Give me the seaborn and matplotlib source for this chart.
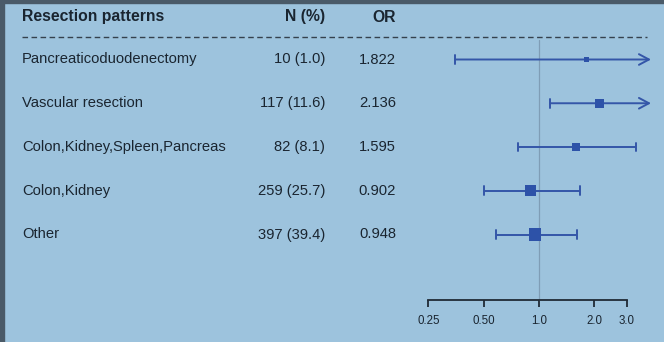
import numpy as np
import pandas as pd
import matplotlib
matplotlib.use("Agg")
import matplotlib.pyplot as plt
import seaborn as sns
from matplotlib.patches import Rectangle

# ---------------- data ----------------
patterns = ["Pancreaticoduodenectomy", "Vascular resection",
            "Colon,Kidney,Spleen,Pancreas", "Colon,Kidney", "Other"]
n_counts = [10, 117, 82, 259, 397]
n_pct = ["1.0", "11.6", "8.1", "25.7", "39.4"]
odds = [1.822, 2.136, 1.595, 0.902, 0.948]
ci_low = [0.35, 1.15, 0.77, 0.50, 0.58]
ci_high = [6.5, 5.0, 3.37, 1.67, 1.62]
tick_vals = [0.25, 0.5, 1.0, 2.0, 3.0]
tick_labels = ["0.25", "0.50", "1.0", "2.0", "3.0"]
headers = ["Resection patterns", "N (%)", "OR"]

df = pd.DataFrame({"pattern": patterns, "n": n_counts, "pct": n_pct,
                   "OR": odds, "lo": ci_low, "hi": ci_high})
df["row"] = np.arange(len(df))

# ---------------- style ----------------
BG = "#9dc3dd"
TXT = "#1a2530"
LINE = "#3456a8"
MARK = "#2d52a8"
sns.set_theme(style="white")
plt.rcParams["font.family"] = ["Liberation Sans", "DejaVu Sans"]

W, H = 664, 342
fig = plt.figure(figsize=(W / 100, H / 100), dpi=100, facecolor=BG)

# row geometry (figure pixels -> row units)
row0_px, row_step = 59.5, 43.75
ytop = -row0_px / row_step
ybot = (H - row0_px) / row_step
def prow(p):
    return (p - row0_px) / row_step

# ---- text / table axes ----
tax = fig.add_axes([0, 0, 1, 1])
tax.set_xlim(0, W)
tax.set_ylim(ybot, ytop)
tax.axis("off")

tax.text(22, prow(17), headers[0], ha="left", va="center", fontsize=11.3,
         fontweight="bold", color=TXT)
tax.text(325, prow(17), headers[1], ha="right", va="center", fontsize=11.3,
         fontweight="bold", color=TXT)
tax.text(396, prow(17), headers[2], ha="right", va="center", fontsize=11.3,
         fontweight="bold", color=TXT)
tax.plot([22, 647], [prow(37), prow(37)], ls=(0, (4, 2.5)), lw=1.0,
         color="#35414d")

for _, r in df.iterrows():
    tax.text(22, r.row, r.pattern, ha="left", va="center", fontsize=10.6,
             color=TXT)
    tax.text(325, r.row, f"{r.n} ({r.pct})", ha="right", va="center",
             fontsize=10.6, color=TXT)
    tax.text(396, r.row, f"{r.OR:.3f}", ha="right", va="center",
             fontsize=10.6, color=TXT)

# ---- forest axes (log2 scale) ----
one_px, px_per_dbl = 539.0, 55.3
ax_l, ax_r = 400, 660
fax = fig.add_axes([ax_l / W, 0, (ax_r - ax_l) / W, 1])
fax.set_xscale("log", base=2)
xmin = 2 ** ((ax_l - one_px) / px_per_dbl)
xmax = 2 ** ((ax_r - one_px) / px_per_dbl)
fax.set_xlim(xmin, xmax)
fax.set_ylim(ybot, ytop)
fax.patch.set_alpha(0)
clip_x = 2 ** ((651 - one_px) / px_per_dbl)

axis_y = prow(300)
fax.plot([1, 1], [prow(40), axis_y], color="#7f9db6", lw=0.9, zorder=1)

LW = 1.4
for _, r in df.iterrows():
    hi = min(r.hi, clip_x)
    fax.plot([r.lo, r.lo], [r.row - 0.1, r.row + 0.1], color=LINE, lw=LW)
    if r.hi > clip_x:
        fax.annotate("", xy=(hi, r.row), xytext=(r.lo, r.row),
                     arrowprops=dict(arrowstyle="->,head_length=0.6,head_width=0.32",
                                     color=LINE, lw=LW, shrinkA=0, shrinkB=0))
    else:
        fax.hlines(r.row, r.lo, hi, color=LINE, lw=LW)
        fax.plot([hi, hi], [r.row - 0.1, r.row + 0.1], color=LINE, lw=LW)

df["msize"] = (2.8 + 0.31 * np.sqrt(df["n"])) ** 2
sns.scatterplot(data=df, x="OR", y="row", size="msize",
                sizes=(df["msize"].min(), df["msize"].max()),
                marker="s", color=MARK, edgecolor=MARK, linewidth=0,
                legend=False, ax=fax, zorder=3)
fax.set_xlim(xmin, xmax)
fax.set_ylim(ybot, ytop)
fax.set_xlabel("")
fax.set_ylabel("")

for s in ["top", "left", "right"]:
    fax.spines[s].set_visible(False)
fax.spines["bottom"].set_position(("data", axis_y))
fax.spines["bottom"].set_bounds(tick_vals[0], tick_vals[-1])
fax.spines["bottom"].set_color("#1f2a35")
fax.spines["bottom"].set_linewidth(1.3)
fax.set_xticks(tick_vals)
fax.set_xticklabels(tick_labels)
fax.minorticks_off()
fax.set_yticks([])
fax.tick_params(axis="x", direction="out", length=5, width=1.3,
                color="#1f2a35", labelcolor=TXT, labelsize=8.3, pad=6,
                bottom=True)

# scan-like dark frame on top & left
fig.patches.append(Rectangle((0, 1 - 3 / H), 1, 3 / H, transform=fig.transFigure,
                             color="#4a5a68", zorder=10))
fig.patches.append(Rectangle((0, 0), 4 / W, 1, transform=fig.transFigure,
                             color="#4a5a68", zorder=10))

fig.savefig("out.png", dpi=100, facecolor=BG)
